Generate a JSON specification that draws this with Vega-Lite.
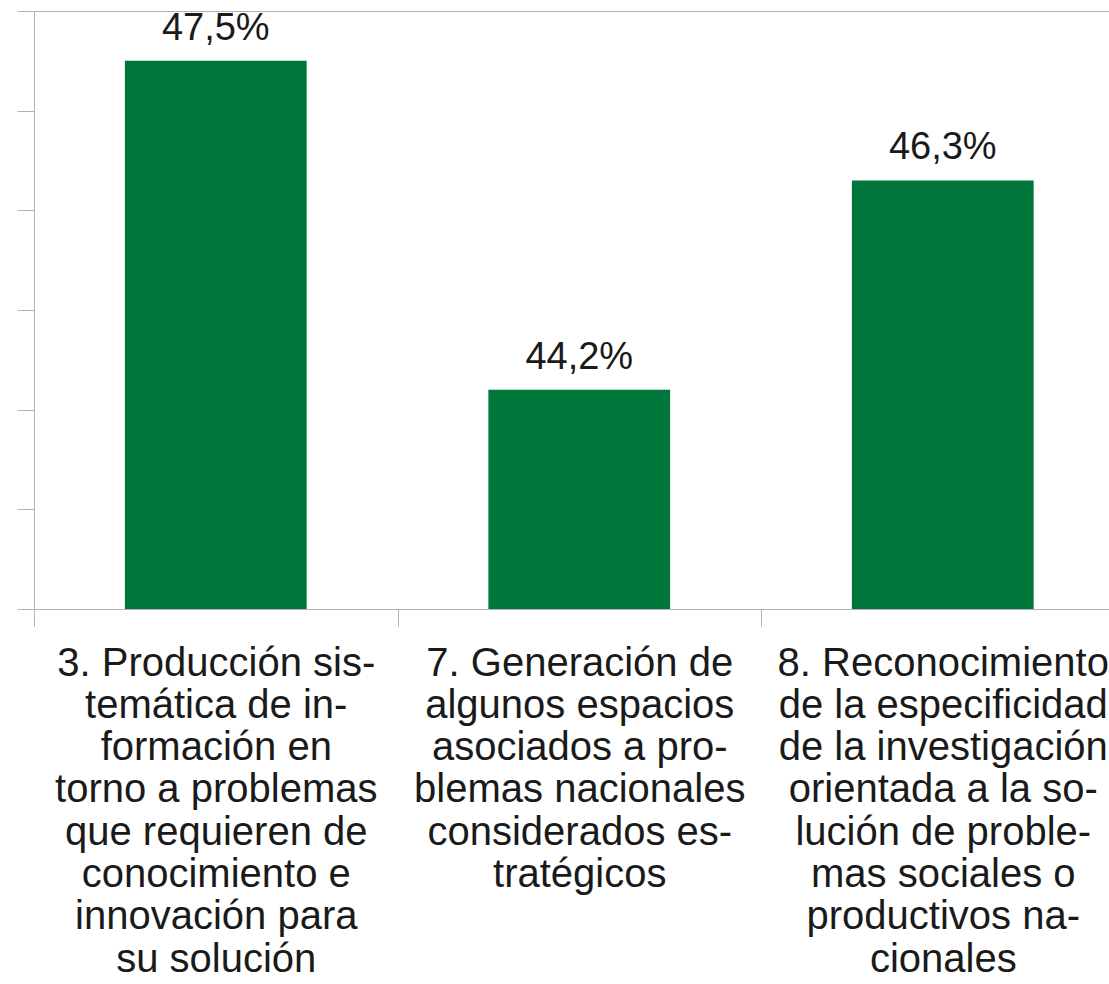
{
  "$schema": "https://vega.github.io/schema/vega-lite/v6.json",
  "width": 1075,
  "height": 598,
  "autosize": {"type": "none"},
  "padding": {"left": 34, "top": 11, "right": 0, "bottom": 375},
  "background": "#ffffff",
  "config": {
    "view": {"stroke": null},
    "font": "Liberation Sans",
    "locale": {"number": {"decimal": ",", "thousands": ".", "grouping": [3], "currency": ["", " €"]}}
  },
  "data": {
    "values": [
      {"cat": "3. Producción sis-|temática de in-|formación en|torno a problemas|que requieren de|conocimiento e|innovación para|su solución", "value": 0.475},
      {"cat": "7. Generación de|algunos espacios|asociados a pro-|blemas nacionales|considerados es-|tratégicos", "value": 0.442},
      {"cat": "8. Reconocimiento|de la especificidad|de la investigación|orientada a la so-|lución de proble-|mas sociales o|productivos na-|cionales", "value": 0.463}
    ]
  },
  "encoding": {
    "x": {
      "field": "cat",
      "type": "nominal",
      "sort": null,
      "scale": {"paddingInner": 0, "paddingOuter": 0, "range": [0, 1090.5]},
      "axis": {
        "title": null,
        "labelExpr": "split(datum.label, '|')",
        "labelFontSize": 40,
        "labelLineHeight": 42.3,
        "labelAngle": 0,
        "labelAlign": "center",
        "labelBaseline": "top",
        "labelPadding": 17,
        "labelColor": "#1a1a1a",
        "labelLimit": 0,
        "labelOverlap": false,
        "labelBound": false,
        "tickBand": "extent",
        "tickSize": 17,
        "tickColor": "#b3b3b3",
        "domainColor": "#b3b3b3",
        "grid": false
      }
    },
    "y": {
      "field": "value",
      "type": "quantitative",
      "scale": {"domain": [0.42, 0.48], "zero": false, "nice": false},
      "axis": {
        "title": null,
        "labels": false,
        "values": [0.42, 0.43, 0.44, 0.45, 0.46, 0.47, 0.48],
        "tickSize": 17,
        "tickColor": "#b3b3b3",
        "domainColor": "#b3b3b3",
        "grid": true,
        "gridColor": {"condition": {"test": "datum.value >= 0.479", "value": "#b3b3b3"}, "value": "transparent"}
      }
    }
  },
  "layer": [
    {"mark": {"type": "bar", "color": "#00763a", "width": {"band": 0.5}}, "encoding": {"y2": {"datum": 0.42}}},
    {
      "mark": {"type": "text", "baseline": "alphabetic", "align": "center", "dy": -21, "fontSize": 38, "color": "#1a1a1a"},
      "encoding": {"text": {"field": "value", "type": "quantitative", "format": ".1%"}}
    }
  ]
}
